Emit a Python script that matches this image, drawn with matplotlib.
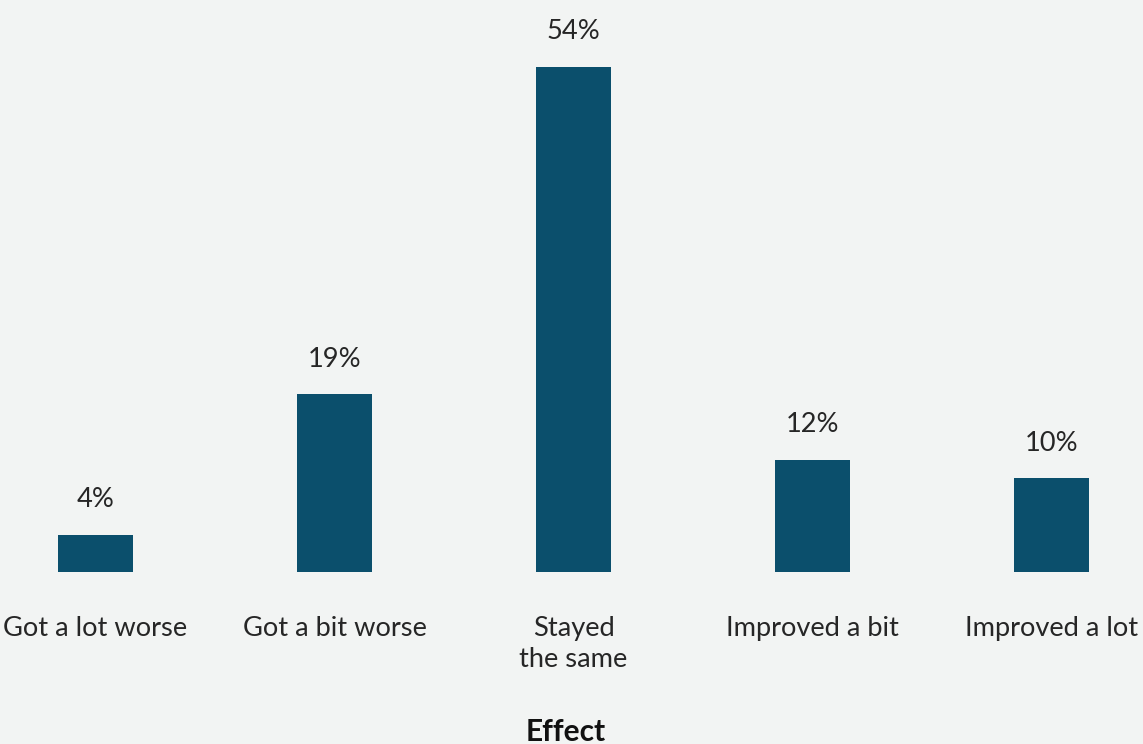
import matplotlib
matplotlib.use("Agg")
import matplotlib.pyplot as plt
from matplotlib import transforms

# Survey responses: share of respondents per effect category
categories = ["Got a lot worse", "Got a bit worse", "Stayed\nthe same",
              "Improved a bit", "Improved a lot"]
shares = [4, 19, 54, 12, 10]
value_labels = ["4%", "19%", "54%", "12%", "10%"]

BG = "#F2F4F3"
BAR = "#0B4F6C"
TEXT = "#262626"
FONT = ["Lato", "DejaVu Sans"]

W, H, DPI = 1143, 744, 100
fig = plt.figure(figsize=(W / DPI, H / DPI), dpi=DPI, facecolor=BG)

base_px = 172  # distance of the baseline from the bottom edge, in pixels
ax = fig.add_axes([0, base_px / H, 1, 1 - base_px / H])
ax.set_facecolor(BG)

x = list(range(len(categories)))
ax.bar(x, shares, width=0.314, color=BAR, zorder=2)

step_px = 239.0
left_px = 95.5
ax.set_xlim(-left_px / step_px, (W - left_px) / step_px)
ax.set_ylim(0, 54 * (H - base_px) / 505)

for xi, v, lab in zip(x, shares, value_labels):
    ax.annotate(lab, (xi, v), xytext=(0, 20), textcoords="offset points",
                ha="center", va="baseline", fontsize=19.6, color=TEXT,
                family=FONT)

# Category labels below the baseline, one text per line
trans = transforms.blended_transform_factory(ax.transData, fig.transFigure)
first_baseline_px, line_px = 636, 31
for xi, cat in zip(x, categories):
    for i, line in enumerate(cat.split("\n")):
        y_px = first_baseline_px + i * line_px
        ax.text(xi, (H - y_px) / H, line, transform=trans,
                ha="center", va="baseline", fontsize=19.6, color=TEXT,
                family=FONT)

fig.text(566 / W, (H - 741) / H, "Effect", ha="center", va="baseline",
         fontsize=21.5, fontweight="bold", color="#111111", family=FONT)

for s in ax.spines.values():
    s.set_visible(False)
ax.set_xticks([])
ax.set_yticks([])

fig.savefig("out.png", dpi=DPI, facecolor=BG)
